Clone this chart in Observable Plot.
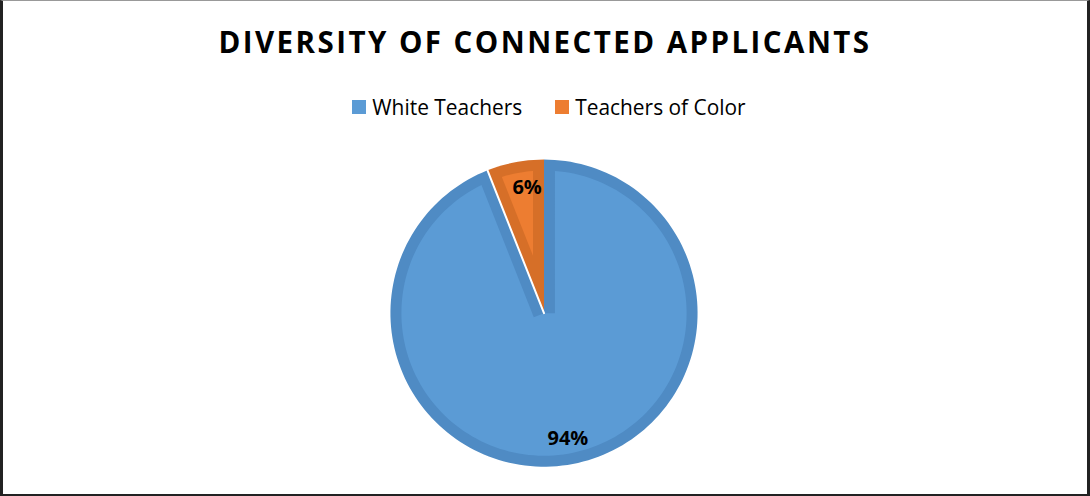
<!DOCTYPE html>
<html>
<head>
<meta charset="utf-8">
<script src="https://cdn.jsdelivr.net/npm/d3@7"></script>
<script src="https://cdn.jsdelivr.net/npm/@observablehq/plot@0.6"></script>
<style>
  html, body { margin: 0; padding: 0; background: #fff; }
  #frame {
    position: relative; width: 1090px; height: 496px; box-sizing: border-box;
    border-top: 1px solid #999; border-left: 3px solid #222; border-right: 3px solid #222; border-bottom: 2px solid #222;
    overflow: hidden; font-family: "Open Sans", sans-serif;
  }
  #title {
    position: absolute; left: -3px; top: 20px; width: 1090px; text-align: center;
    font-weight: 700; font-size: 29.5px; letter-spacing: 2.45px; color: #000;
  }
  #legend {
    position: absolute; left: 1px; top: 92px; width: 1090px; display: flex; justify-content: center;
    font-size: 20.9px; color: #000; gap: 33px;
  }
  .item { display: flex; align-items: center; gap: 6px; }
  .sw { width: 14px; height: 14px; display: inline-block; }
  #chart { position: absolute; left: -3px; top: -1px; }
</style>
</head>
<body>
<div id="frame">
  <div id="title"></div>
  <div id="legend"></div>
  <div id="chart"></div>
</div>
<script>
const categories = ["White Teachers", "Teachers of Color"];
const values = [94, 6];
const labels = ["94%", "6%"];
const fills = ["#5B9BD5", "#ED7D31"];
const rings = ["#4F8BC4", "#D66F28"];
const title = "DIVERSITY OF CONNECTED APPLICANTS";

document.getElementById("title").textContent = title;
const leg = document.getElementById("legend");
categories.forEach((c, i) => {
  const it = document.createElement("div"); it.className = "item";
  const sw = document.createElement("span"); sw.className = "sw"; sw.style.background = fills[i];
  const tx = document.createElement("span"); tx.textContent = c;
  it.appendChild(sw); it.appendChild(tx); leg.appendChild(it);
});

// angles clockwise from 12 o'clock
const pie = d3.pie().sort(null).value(d => d)(values);
const pt = (a, r) => [r * Math.sin(a), r * Math.cos(a)];
const N = 180;

function wedge(a0, a1, r) {
  const pts = [[0, 0]];
  const n = Math.max(4, Math.ceil(N * (a1 - a0) / (2 * Math.PI)));
  for (let k = 0; k <= n; k++) pts.push(pt(a0 + (a1 - a0) * k / n, r));
  pts.push([0, 0]);
  return pts;
}
function insetWedge(a0, a1, r, d) {
  const span = a1 - a0;
  const da = Math.asin(d / (r - d));
  const pts = [];
  const b0 = a0 + da, b1 = a1 - da;
  const n = Math.max(4, Math.ceil(N * (b1 - b0) / (2 * Math.PI)));
  for (let k = 0; k <= n; k++) pts.push(pt(b0 + (b1 - b0) * k / n, r - d));
  if (span < Math.PI) {
    const mid = (a0 + a1) / 2;
    pts.push(pt(mid, d / Math.sin(span / 2)));
  } else {
    // offset edges meet at the centre side of the reflex wedge
    const s0 = a1 - Math.PI / 2, s1 = a0 + Math.PI / 2;
    pts.push(pt(s0, d));
    pts.push([0, 0].map((_, j) => (pt(s0, d)[j] + pt(s1, d)[j]) / 2 * 0));
    pts.push(pt(s1, d));
  }
  pts.push(pts[0]);
  return pts;
}
const poly = (ring, props) => ({type: "Feature", properties: props, geometry: {type: "Polygon", coordinates: [ring]}});

const R = 1, D = 11 / 154;
const outer = pie.map((p, i) => poly(wedge(p.startAngle, p.endAngle, R), {i}));
const inner = pie.map((p, i) => poly(insetWedge(p.startAngle, p.endAngle, R, D), {i}));
// separator on the left edge of the small slice
const sep = {type: "LineString", coordinates: [[0, 0], pt(pie[1].startAngle, R * 1.01)]};
const labelData = pie.map((p, i) => {
  const [x, y] = pt((p.startAngle + p.endAngle) / 2, 0.83);
  return {x, y, label: labels[i]};
});
const domainCircle = {type: "Polygon", coordinates: [d3.range(0, 361, 2).map(a => pt(a * Math.PI / 180, R))]};

const chart = Plot.plot({
  width: 1090, height: 496,
  marginTop: 159.5, marginBottom: 28.5, marginLeft: 391, marginRight: 391,
  projection: {type: "reflect-y", domain: domainCircle},
  marks: [
    Plot.geo(outer, {fill: d => rings[d.properties.i]}),
    Plot.geo(inner, {fill: d => fills[d.properties.i]}),
    Plot.geo(sep, {stroke: "#fff", strokeWidth: 2}),
    Plot.text([labelData[0]], {x: "x", y: "y", text: "label", fontSize: 20, fontWeight: "bold", fill: "#000", fontFamily: "Open Sans"}),
    Plot.text([labelData[1]], {x: "x", y: "y", text: "label", dx: 7, fontSize: 20, fontWeight: "bold", fill: "#000", fontFamily: "Open Sans"})
  ]
});
document.getElementById("chart").appendChild(chart);
</script>
</body>
</html>
